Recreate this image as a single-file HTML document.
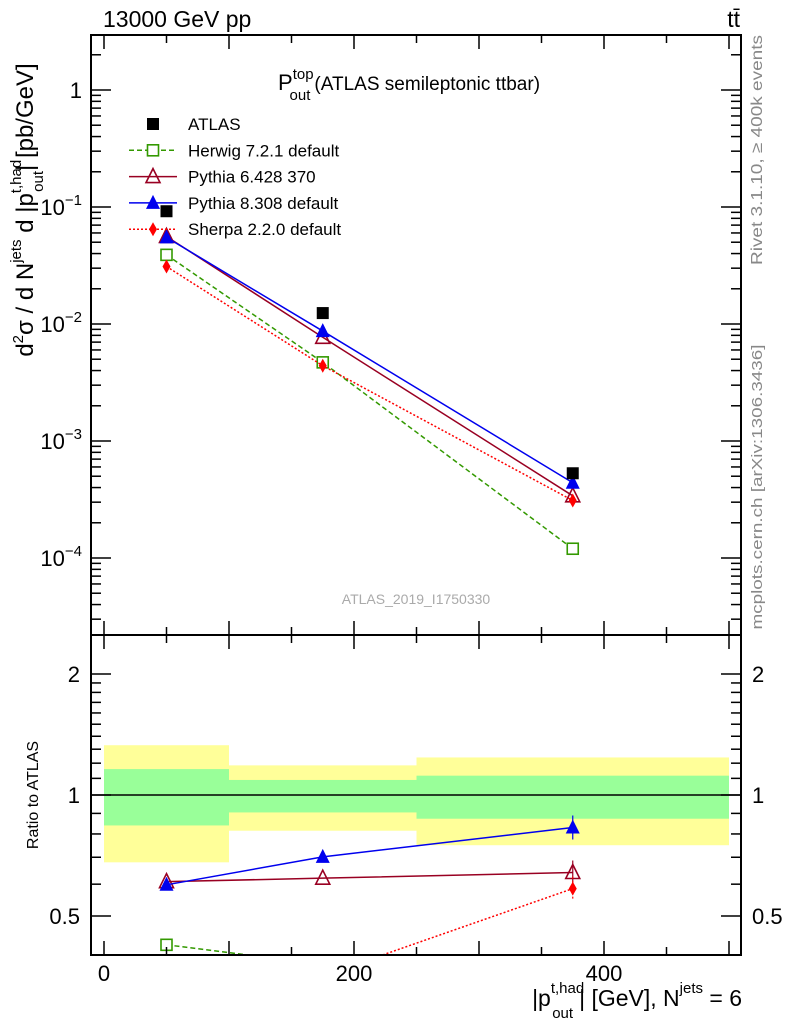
<!DOCTYPE html>
<html><head><meta charset="utf-8"><style>
body{margin:0;background:#fff;width:786px;height:1024px;overflow:hidden}
svg{font-family:"Liberation Sans",sans-serif}
</style></head><body>
<svg id="chart" width="786" height="1024" viewBox="0 0 786 1024" xmlns="http://www.w3.org/2000/svg">
<text x="103" y="27" font-size="23">13000 GeV pp</text>
<text x="740" y="27" font-size="23" text-anchor="end">tt̄</text>
<text transform="translate(762,150) rotate(-90)" font-size="16" fill="#888" text-anchor="middle" textLength="230" lengthAdjust="spacingAndGlyphs">Rivet 3.1.10, ≥ 400k events</text>
<text transform="translate(762,487) rotate(-90)" font-size="15" fill="#888" text-anchor="middle" textLength="285" lengthAdjust="spacingAndGlyphs">mcplots.cern.ch [arXiv:1306.3436]</text>
<g id="main"></g>
<g id="ratio"></g>
<text x="278" y="90" font-size="22">P<tspan font-size="15" dy="-11">top</tspan><tspan font-size="15" dx="-24" dy="21">out</tspan><tspan font-size="19" dy="-10" dx="4">(ATLAS semileptonic ttbar)</tspan></text>
<text x="416" y="604" font-size="14" fill="#aaa" text-anchor="middle">ATLAS_2019_I1750330</text>
<text transform="translate(33,210) rotate(-90)" font-size="24" text-anchor="middle">d<tspan font-size="15" dy="-10">2</tspan><tspan dy="10">σ / d N</tspan><tspan font-size="15" dy="-12">jets</tspan><tspan dy="12"> d |p</tspan><tspan font-size="15" dy="-12">t,had</tspan><tspan font-size="15" dx="-32" dy="22">out</tspan><tspan dy="-10">| [pb/GeV]</tspan></text>
<text transform="translate(38,795) rotate(-90)" font-size="16" text-anchor="middle">Ratio to ATLAS</text>
<text x="742" y="1006" font-size="23" text-anchor="end">|p<tspan font-size="15" dy="-13">t,had</tspan><tspan font-size="15" dx="-32" dy="25">out</tspan><tspan dy="-12" dx="6">| [GeV], N</tspan><tspan font-size="15" dy="-13">jets</tspan><tspan dy="13"> = 6</tspan></text>
</svg>
<script>
const xCenters=[50,175,375];
const binEdges=[0,100,250,500];
const atlas=[0.092,0.0124,0.00053];
const herwig=[0.039,0.0047,0.00012];
const pythia6=[0.056,0.0077,0.00034];
const pythia8=[0.055,0.0087,0.00044];
const sherpa=[0.031,0.0044,0.00031];
const bandYellowUp=[1.33,1.185,1.24];
const bandYellowLo=[0.68,0.815,0.75];
const bandGreenUp=[1.16,1.09,1.117];
const bandGreenLo=[0.84,0.905,0.873];
const mainTicks=[1,0.1,0.01,0.001,0.0001];
const mainTickLabels=["1","10","10","10","10"];
const mainTickExp=["","−1","−2","−3","−4"];
const ratioTicks=[0.5,1,2];
const xTicks=[0,200,400];

const NS="http://www.w3.org/2000/svg";
const L=91,R=741,MT=35,MB=635,RB=955;
const xmin=-10.4,xmax=509.6;
const X=v=>L+(v-xmin)/(xmax-xmin)*(R-L);
const Y=v=>90-Math.log10(v)*117;
const YR=v=>795-Math.log2(v)*121;
function mk(tag,attrs,parent){const e=document.createElementNS(NS,tag);for(const k in attrs)e.setAttribute(k,attrs[k]);parent.appendChild(e);return e;}
const main=document.getElementById('main'),ratio=document.getElementById('ratio');

for(let i=0;i<3;i++){
 let r=mk('rect',{x:X(binEdges[i]),y:YR(bandYellowUp[i]),width:X(binEdges[i+1])-X(binEdges[i]),height:YR(bandYellowLo[i])-YR(bandYellowUp[i]),fill:'#ffff99'},ratio);
 
 
 let g=mk('rect',{x:X(binEdges[i]),y:YR(bandGreenUp[i]),width:X(binEdges[i+1])-X(binEdges[i]),height:YR(bandGreenLo[i])-YR(bandGreenUp[i]),fill:'#99ff99'},ratio);
 
 
}
let one=mk('line',{x1:L,x2:R,y1:YR(1),y2:YR(1),stroke:'#000','stroke-width':1.5},ratio);



const defs=mk('defs',{},document.getElementById('chart'));
const cp=mk('clipPath',{id:'rc'},defs);mk('rect',{x:L,y:MB,width:R-L,height:RB-MB},cp);
const rg=mk('g',{'clip-path':'url(#rc)'},ratio);

let f1=mk('rect',{x:L,y:MT,width:R-L,height:MB-MT,fill:'none',stroke:'#000','stroke-width':2},main);


let f2=mk('rect',{x:L,y:MB,width:R-L,height:RB-MB,fill:'none',stroke:'#000','stroke-width':2},ratio);



for(let v=0;v<=500;v+=50){
 const big=v%100===0, h=big?14:8;
 mk('line',{x1:X(v),x2:X(v),y1:MT,y2:MT+h,stroke:'#000','stroke-width':1.5},main);
 mk('line',{x1:X(v),x2:X(v),y1:MB,y2:MB-h,stroke:'#000','stroke-width':1.5},main);
 mk('line',{x1:X(v),x2:X(v),y1:MB,y2:MB+h,stroke:'#000','stroke-width':1.5},ratio);
 mk('line',{x1:X(v),x2:X(v),y1:RB,y2:RB-h,stroke:'#000','stroke-width':1.5},ratio);
}
xTicks.forEach(v=>{const t=mk('text',{x:X(v),y:981,'font-size':22,'text-anchor':'middle'},ratio);t.textContent=v;
 
 });

for(let d=-5;d<=0;d++){for(let m=1;m<10;m++){const v=m*Math.pow(10,d);const y=Y(v);if(y<MT||y>MB)continue;const w=m===1?20:10;
 mk('line',{x1:L,x2:L+w,y1:y,y2:y,stroke:'#000','stroke-width':1.5},main);
 mk('line',{x1:R,x2:R-w,y1:y,y2:y,stroke:'#000','stroke-width':1.5},main);}}
mainTicks.forEach((v,i)=>{const t=mk('text',{x:82,y:Y(v)+8,'font-size':22,'text-anchor':'end'},main);
 t.textContent=mainTickLabels[i];
 if(mainTickExp[i]){const s=mk('tspan',{'font-size':15,dy:-10},t);s.textContent=mainTickExp[i];}
 
 });

[0.5,0.6,0.7,0.8,0.9,1,1.1,1.2,1.3,1.4,1.5,1.6,1.7,1.8,1.9,2].forEach(v=>{const y=YR(v);const w=(v===0.5||v===1||v===2)?20:10;
 mk('line',{x1:L,x2:L+w,y1:y,y2:y,stroke:'#000','stroke-width':1.5},ratio);
 mk('line',{x1:R,x2:R-w,y1:y,y2:y,stroke:'#000','stroke-width':1.5},ratio);});
ratioTicks.forEach(v=>{[[80,'end'],[752,'start']].forEach(([x,a])=>{const t=mk('text',{x:x,y:YR(v)+8,'font-size':22,'text-anchor':a},ratio);t.textContent=v;
 
 });});

function marker(g,type,x,y,col){
 if(type==='sq')mk('rect',{x:x-6,y:y-6,width:12,height:12,fill:'#000'},g);
 if(type==='osq')mk('rect',{x:x-5.5,y:y-5.5,width:11,height:11,fill:'#fff',stroke:col,'stroke-width':1.6},g);
 if(type==='otri')mk('path',{d:`M${x} ${y-8}L${x+7} ${y+6}L${x-7} ${y+6}Z`,fill:'none',stroke:col,'stroke-width':1.6},g);
 if(type==='tri')mk('path',{d:`M${x} ${y-8}L${x+7} ${y+6}L${x-7} ${y+6}Z`,fill:col},g);
 if(type==='dia')mk('path',{d:`M${x} ${y-7}L${x+4} ${y}L${x} ${y+7}L${x-4} ${y}Z`,fill:col},g);
}
const series=[
 {name:'herwig',data:herwig,col:'#339900',dash:'5,3',m:'osq',label:'Herwig 7.2.1 default'},
 {name:'pythia6',data:pythia6,col:'#990022',dash:'',m:'otri',label:'Pythia 6.428 370'},
 {name:'pythia8',data:pythia8,col:'#0000ee',dash:'',m:'tri',label:'Pythia 8.308 default'},
 {name:'sherpa',data:sherpa,col:'#ff0000',dash:'2,2',m:'dia',label:'Sherpa 2.2.0 default'}];
series.forEach(s=>{
 const g=mk('g',{},main);
 
 
 mk('polyline',{points:xCenters.map((x,i)=>X(x)+','+Y(s.data[i])).join(' '),fill:'none',stroke:s.col,'stroke-width':1.5,'stroke-dasharray':s.dash},g);
 xCenters.forEach((x,i)=>marker(g,s.m,X(x),Y(s.data[i]),s.col));
 const rgS=mk('g',{},rg);
 
 
 const rv=s.data.map((v,i)=>v/atlas[i]);
 mk('polyline',{points:xCenters.map((x,i)=>X(x)+','+YR(rv[i])).join(' '),fill:'none',stroke:s.col,'stroke-width':1.5,'stroke-dasharray':s.dash},rgS);
 xCenters.forEach((x,i)=>{marker(rgS,s.m,X(x),YR(rv[i]),s.col);
  if(i===2)mk('line',{x1:X(x),x2:X(x),y1:YR(rv[i])-12,y2:YR(rv[i])+12,stroke:s.col,'stroke-width':1.2,'stroke-dasharray':s.dash},rgS);});
});
const ag=mk('g',{},main);


xCenters.forEach((x,i)=>marker(ag,'sq',X(x),Y(atlas[i]),'#000'));

const leg=[{m:'sq',col:'#000',dash:null,label:'ATLAS'}].concat(series.map(s=>({m:s.m,col:s.col,dash:s.dash,label:s.label})));
leg.forEach((e,i)=>{const y=124+i*26.3;const g=mk('g',{},main);
 
 
 if(e.dash!==null)mk('line',{x1:129,x2:177,y1:y,y2:y,stroke:e.col,'stroke-width':1.5,'stroke-dasharray':e.dash},g);
 marker(g,e.m,153,y,e.col);
 const t=mk('text',{x:188,y:y+6,'font-size':17},g);t.textContent=e.label;});
</script>
</body></html>
